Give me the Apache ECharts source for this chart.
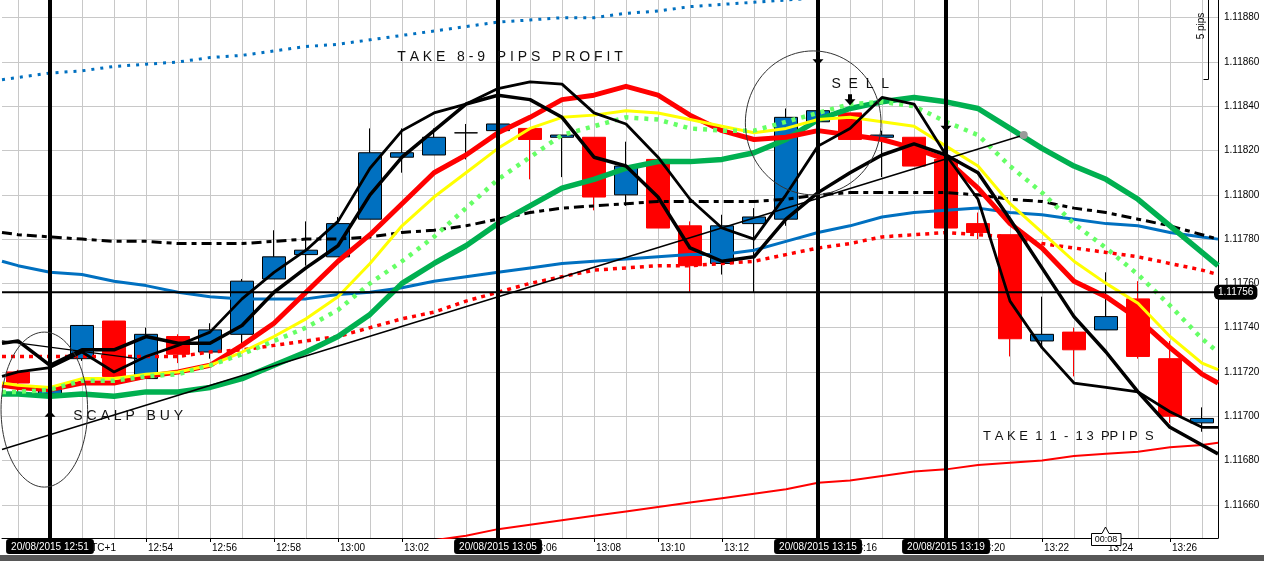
<!DOCTYPE html>
<html><head><meta charset="utf-8">
<script src="https://cdn.jsdelivr.net/npm/echarts@6/dist/echarts.min.js"></script>
<style>html,body{margin:0;padding:0;background:#fff}#c{width:1264px;height:561px}</style>
</head><body><div id="c"></div>
<script>
// ---------- DATA ----------
const categories = ['12:50','12:51','12:52','12:53','12:54','12:55','12:56','12:57','12:58','12:59',
  '13:00','13:01','13:02','13:03','13:04','13:05','13:06','13:07','13:08','13:09',
  '13:10','13:11','13:12','13:13','13:14','13:15','13:16','13:17','13:18','13:19',
  '13:20','13:21','13:22','13:23','13:24','13:25','13:26','13:27'];
const openVals  = [1.11720,1.11710,1.11726,1.11743,1.11717,1.11736,1.11729,1.11737,1.11762,1.11773,1.11772,1.11789,1.11817,1.11818,1.11828,1.11829,1.11830,1.11826,1.11826,1.11800,1.11816,1.11786,1.11769,1.11787,1.11789,1.11833,1.11837,1.11826,1.11826,1.11816,1.11787,1.11782,1.11734,1.11738,1.11739,1.11753,1.11726,1.11697];
const closeVals = [1.11715,1.11712,1.11741,1.11718,1.11737,1.11728,1.11739,1.11761,1.11772,1.11775,1.11787,1.11819,1.11819,1.11826,1.11828,1.11832,1.11825,1.11827,1.11799,1.11813,1.11785,1.11768,1.11786,1.11790,1.11835,1.11838,1.11825,1.11827,1.11813,1.11785,1.11783,1.11735,1.11737,1.11730,1.11745,1.11727,1.11700,1.11699];
const lowVals   = [1.11711,1.11709,1.11725,1.11717,1.11717,1.11724,1.11726,1.11733,1.11762,1.11768,1.11772,1.11789,1.11810,1.11818,1.11816,1.11829,1.11807,1.11808,1.11793,1.11795,1.11785,1.11756,1.11764,1.11756,1.11786,1.11833,1.11825,1.11808,1.11813,1.11785,1.11780,1.11727,1.11731,1.11718,1.11739,1.11726,1.11697,1.11693];
const highVals  = [1.11721,1.11713,1.11741,1.11743,1.11740,1.11737,1.11742,1.11762,1.11784,1.11788,1.11790,1.11830,1.11830,1.11830,1.11832,1.11832,1.11830,1.11827,1.11826,1.11824,1.11816,1.11788,1.11791,1.11794,1.11839,1.11838,1.11837,1.11829,1.11826,1.11816,1.11792,1.11782,1.11754,1.11740,1.11765,1.11761,1.11734,1.11704];

const blackFast = [1.11720,1.11722,1.11729,1.11720,1.11727,1.11732,1.11738,1.11753,1.11765,1.11775,1.11788,1.11812,1.11829,1.11837,1.11841,1.11848,1.11851,1.11850,1.11837,1.11832,1.11817,1.11798,1.11785,1.11780,1.11800,1.11822,1.11830,1.11844,1.11841,1.11818,1.11798,1.11752,1.11731,1.11715,1.11713,1.11711,1.11702,1.11695];
const blackSlow = [1.11734,1.11723,1.11730,1.11730,1.11736,1.11733,1.11733,1.11741,1.11756,1.11767,1.11777,1.11800,1.11817,1.11829,1.11841,1.11845,1.11843,1.11835,1.11817,1.11813,1.11799,1.11776,1.11770,1.11772,1.11789,1.11801,1.11810,1.11818,1.11823,1.11818,1.11810,1.11789,1.11767,1.11745,1.11729,1.11711,1.11695,1.11687];
const redThick  = [1.11713,1.11712,1.11715,1.11715,1.11718,1.11720,1.11723,1.11732,1.11742,1.11756,1.11770,1.11782,1.11796,1.11810,1.11818,1.11828,1.11835,1.11843,1.11845,1.11849,1.11845,1.11836,1.11829,1.11825,1.11826,1.11829,1.11827,1.11825,1.11821,1.11816,1.11803,1.11787,1.11776,1.11761,1.11754,1.11744,1.11731,1.11719];
const yellowLine= [1.11714,1.11713,1.11717,1.11717,1.11719,1.11720,1.11723,1.11729,1.11736,1.11744,1.11754,1.11769,1.11786,1.11799,1.11810,1.11821,1.11830,1.11835,1.11836,1.11838,1.11837,1.11834,1.11831,1.11828,1.11830,1.11834,1.11835,1.11833,1.11831,1.11822,1.11813,1.11796,1.11783,1.11770,1.11760,1.11751,1.11736,1.11724];
const greenDots = [1.11711,1.11712,1.11716,1.11716,1.11718,1.11719,1.11723,1.11728,1.11734,1.11740,1.11748,1.11760,1.11770,1.11781,1.11794,1.11807,1.11817,1.11827,1.11831,1.11835,1.11834,1.11830,1.11829,1.11829,1.11833,1.11837,1.11841,1.11842,1.11840,1.11833,1.11827,1.11813,1.11801,1.11787,1.11776,1.11764,1.11750,1.11735];
const greenThick= [1.11710,1.11709,1.11710,1.11709,1.11711,1.11711,1.11713,1.11717,1.11723,1.11729,1.11736,1.11746,1.11760,1.11769,1.11777,1.11787,1.11795,1.11803,1.11807,1.11812,1.11815,1.11815,1.11816,1.11819,1.11825,1.11834,1.11839,1.11842,1.11844,1.11842,1.11839,1.11830,1.11821,1.11813,1.11807,1.11798,1.11786,1.11774];
const redDots   = [1.11727,1.11727,1.11727,1.11727,1.11727,1.11727,1.11729,1.11730,1.11732,1.11734,1.11736,1.11740,1.11744,1.11747,1.11752,1.11756,1.11760,1.11763,1.11766,1.11767,1.11768,1.11768,1.11769,1.11770,1.11773,1.11776,1.11778,1.11781,1.11782,1.11783,1.11782,1.11781,1.11778,1.11776,1.11774,1.11772,1.11769,1.11766];
const blueLine  = [1.11768,1.11765,1.11764,1.11761,1.11759,1.11756,1.11754,1.11753,1.11753,1.11753,1.11755,1.11756,1.11758,1.11761,1.11763,1.11765,1.11767,1.11769,1.11770,1.11771,1.11772,1.11773,1.11773,1.11775,1.11779,1.11783,1.11786,1.11790,1.11792,1.11793,1.11794,1.11792,1.11791,1.11789,1.11787,1.11786,1.11783,1.11781];
const blackDash = [1.11782,1.11781,1.11780,1.11779,1.11779,1.11778,1.11778,1.11778,1.11779,1.11780,1.11780,1.11781,1.11783,1.11784,1.11786,1.11789,1.11792,1.11794,1.11795,1.11796,1.11797,1.11797,1.11797,1.11797,1.11798,1.11800,1.11801,1.11801,1.11801,1.11801,1.11800,1.11798,1.11797,1.11794,1.11792,1.11789,1.11786,1.11782];
const blueDots  = [1.11853,1.11855,1.11856,1.11858,1.11859,1.11860,1.11862,1.11863,1.11865,1.11867,1.11868,1.11870,1.11872,1.11874,1.11876,1.11878,1.11879,1.11880,1.11880,1.11882,1.11883,1.11885,1.11886,1.11887,1.11888,1.11889,1.11890,1.11891,1.11892,1.11893,1.11894,1.11894,1.11895,1.11896,1.11896,1.11897,1.11897,1.11898];
const redThin   = [1.11618,1.11620,1.11622,1.11624,1.11626,1.11628,1.11630,1.11632,1.11634,1.11636,1.11638,1.11640,1.11642,1.11644,1.11646,1.11649,1.11651,1.11653,1.11655,1.11657,1.11659,1.11661,1.11663,1.11665,1.11667,1.11670,1.11671,1.11673,1.11675,1.11676,1.11678,1.11679,1.11680,1.11682,1.11683,1.11684,1.11686,1.11687];

// values where each line meets the left and right edges of the plot (half a bar outside the first/last bar)
const lineKeys  = ['blueDots','redThin','blueLine','redDots','blackDash','greenThick','redThick','yellow','greenDots','blackSlow','blackFast'];
const edgeLeft  = [1.11852, 1.11617, 1.11770, 1.11727, 1.11783, 1.11710, 1.11714, 1.11715, 1.11711, 1.11733, 1.11718];
const edgeRight = [1.11898, 1.11688, 1.11780, 1.11764, 1.11780, 1.11768, 1.11715, 1.11721, 1.11729, 1.11683, 1.11695];

// trend lines (x in bar index units, fractional allowed)
const trendX = [-0.5, 31.43];
const trendV = [1.11685, 1.11827];
const thinX  = [-0.5, 3.72];
const thinV  = [1.11734, 1.11726];

const priceLine = 1.11756;
const markedTimes = ['12:51','13:05','13:15','13:19'];
const markDate = '20/08/2015';
const arrowsDown = [[25, 1.11861],[26, 1.11843],[29, 1.11831]];
const arrowsUp = [[1, 1.11700]];

const notes = [
  {text:'T A K E   8 - 9   P I P S   P R O F I T', k:11.85, v:1.11862, size:14},
  {text:'S  E  L  L', k:25.42, v:1.11850, size:14},
  {text:'S C A L P   B U Y', k:1.73, v:1.11700, size:14},
  {text:'T A K E  1  1  -  1 3  PP I P  S', k:30.16, v:1.11691, size:13}
];
const ellipses = [
  {k:[-0.53, 2.175], v:[1.11738, 1.11668]},
  {k:[22.73, 26.97], v:[1.11865, 1.11800]}
];

// ---------- CHART ----------
const FONT = '"Liberation Sans", Arial, sans-serif';
const chart = echarts.init(document.getElementById('c'), null, {renderer:'canvas'});
const candleData = categories.map((c,i)=>[openVals[i], closeVals[i], lowVals[i], highVals[i]]);
const lineArrays = {blueDots, redThin, blueLine, redDots, blackDash, greenThick, redThick, yellow:yellowLine, greenDots, blackSlow, blackFast};
const lastEdge = categories.length - 0.5;

function lineSeries(key, color, width, type, z){
  const idx = lineKeys.indexOf(key);
  const arr = lineArrays[key];
  const data = [[-0.5, edgeLeft[idx]]].concat(arr.map((v,i)=>[i, v])).concat([[lastEdge, edgeRight[idx]]]);
  return {name:key, type:'line', data, xAxisIndex:1, yAxisIndex:0, showSymbol:false, symbol:'none',
    smooth:false, z: z||3, silent:true, clip:true,
    lineStyle:{color, width, type: type||'solid', cap:'butt', join:'round'}};
}

const downArrow = 'path://M3.5,0 L7.5,0 L7.5,5 L11,5 L5.5,11 L0,5 L3.5,5 Z';

const option = {
  animation:false,
  backgroundColor:'#ffffff',
  textStyle:{fontFamily:FONT},
  grid:{left:2, right:46, top:0, bottom:23, outerBoundsMode:'none', containLabel:false},
  xAxis:[{
    type:'category', data:categories, boundaryGap:true, position:'bottom',
    axisLine:{show:true, onZero:false, lineStyle:{color:'#000', width:1}},
    axisTick:{show:true, alignWithLabel:true, length:4, lineStyle:{color:'#000'},
      interval:(i)=> i>=2 && i%2===0},
    axisLabel:{show:true, color:'#000', fontSize:10, fontFamily:FONT, align:'left', margin:5,
      padding:[0,0,0,2],
      interval:(i)=> i>=2 && i%2===0,
      formatter:(v,i)=> i===2 ? 'UTC+1' : v},
    splitLine:{show:false}
  },{
    type:'value', min:-0.5, max:37.5, splitNumber:38, position:'bottom',
    axisLine:{show:false, onZero:false}, axisTick:{show:false}, axisLabel:{show:false},
    splitLine:{show:true, showMinLine:false, showMaxLine:false, lineStyle:{color:'#c8c8c8', width:1}}
  }],
  yAxis:[{
    type:'value', position:'right', min:1.11645, max:1.11888, splitNumber:12, scale:true,
    axisLine:{show:true, onZero:false, lineStyle:{color:'#000', width:1}},
    axisTick:{show:false},
    axisLabel:{show:true, color:'#000', fontSize:10, fontFamily:FONT, margin:6,
      showMinLabel:false, showMaxLabel:false, formatter:(v)=>v.toFixed(5)},
    splitLine:{show:true, showMinLine:false, showMaxLine:false, lineStyle:{color:'#c8c8c8', width:1}}
  }],
  series:[
    {name:'candles', type:'candlestick', data:candleData, xAxisIndex:0, yAxisIndex:0, barWidth:24, z:2, silent:true,
     itemStyle:{color:'#0070c0', color0:'#ff0000', borderColor:'#000000', borderColor0:'#ff0000', borderWidth:1}},
    lineSeries('blueDots', '#0070c0', 3, [3,6]),
    lineSeries('redThin', '#ff0000', 2),
    lineSeries('blueLine', '#0070c0', 3),
    lineSeries('redDots', '#ff0000', 3.5, [4,5]),
    lineSeries('blackDash', '#000000', 3, [10,5,5,5]),
    lineSeries('greenThick', '#00b050', 5.5),
    lineSeries('redThick', '#ff0000', 5),
    lineSeries('yellow', '#ffff00', 3),
    lineSeries('greenDots', '#66ff66', 4.5, [4,6]),
    {name:'thin', type:'line', xAxisIndex:1, yAxisIndex:0, silent:true, z:4, symbol:'none', showSymbol:false,
     data: thinX.map((x,i)=>[x, thinV[i]]), lineStyle:{color:'#000', width:1.3}},
    {name:'trend', type:'line', xAxisIndex:1, yAxisIndex:0, silent:true, z:4, symbol:'none', showSymbol:true,
     data:[[trendX[0], trendV[0]], {value:[trendX[1], trendV[1]], symbol:'circle', symbolSize:8, itemStyle:{color:'#9a9a9a'}}],
     lineStyle:{color:'#000', width:1.5}},
    lineSeries('blackSlow', '#000000', 3.5, 'solid', 5),
    lineSeries('blackFast', '#000000', 2.8, 'solid', 5),
    {name:'priceLevel', type:'line', xAxisIndex:1, yAxisIndex:0, silent:true, z:9, symbol:'none', showSymbol:false,
     clip:false,
     data:[[-0.5, priceLine],[lastEdge, priceLine]],
     lineStyle:{color:'#000', width:2},
     endLabel:{show:true, formatter:()=>priceLine.toFixed(5), color:'#fff', backgroundColor:'#000',
       padding:[3,4,2,4], borderRadius:5, fontSize:10, fontFamily:FONT, distance:-4}},
    {name:'arrows', type:'scatter', xAxisIndex:0, yAxisIndex:0, silent:true, z:8,
     symbol:downArrow, symbolSize:[11,11],
     itemStyle:{color:'#000', opacity:1},
     data: arrowsDown.map(a=>({value:a})).concat(arrowsUp.map(a=>({value:a, symbolRotate:180}))),
     markLine:{
       silent:true, animation:false, symbol:['none','none'], z:9,
       data: markedTimes.map(t=>({xAxis:t, name: markDate+' '+t,
          lineStyle:{color:'#000', width:4, type:'solid'},
          label:{show:true, position:'start', formatter:'{b}', color:'#fff', backgroundColor:'#000',
                 padding:[3,5,2,5], borderRadius:3, fontSize:10, fontFamily:FONT, distance:1}}))
     }}
  ]
};
chart.setOption(option);

// ---------- annotations (anchored in data space) ----------
const toPx = (k,v)=> chart.convertToPixel({xAxisIndex:1, yAxisIndex:0}, [k, v]);
const gfx = [];
ellipses.forEach(e=>{
  const p0 = toPx(e.k[0], e.v[0]), p1 = toPx(e.k[1], e.v[1]);
  const cx=(p0[0]+p1[0])/2, cy=(p0[1]+p1[1])/2, rx=Math.abs(p1[0]-p0[0])/2, ry=Math.abs(p1[1]-p0[1])/2;
  const pts=[];
  for(let i=0;i<=96;i++){const a=i/96*Math.PI*2; pts.push([cx+rx*Math.cos(a), cy+ry*Math.sin(a)]);}
  gfx.push({type:'polyline', silent:true, z:20, shape:{points:pts}, style:{stroke:'#333', lineWidth:1, fill:null}});
});
notes.forEach(n=>{
  const p = toPx(n.k, n.v);
  gfx.push({type:'text', silent:true, z:20, x:p[0], y:p[1],
    style:{text:n.text, fill:'#111', font:n.size+'px '+FONT, verticalAlign:'middle', align:'left'}});
});
// "5 pips" ruler (window chrome)
gfx.push({type:'polyline', silent:true, z:20, shape:{points:[[1208.5,0],[1208.5,79.5],[1203.5,79.5]]}, style:{stroke:'#000', lineWidth:1, fill:null}});
gfx.push({type:'text', silent:true, z:20, x:1201, y:26, rotation:Math.PI/2,
  style:{text:'5 pips', fill:'#000', font:'10px '+FONT, align:'center', verticalAlign:'middle'}});
// countdown box
gfx.push({type:'polygon', silent:true, z:20, shape:{points:[[1091.5,533.5],[1102,533.5],[1105.5,527],[1109,533.5],[1121,533.5],[1121,545.5],[1091.5,545.5]]},
  style:{fill:'#fff', stroke:'#000', lineWidth:1}});
gfx.push({type:'text', silent:true, z:21, x:1106, y:540,
  style:{text:'00:08', fill:'#000', font:'9px '+FONT, align:'center', verticalAlign:'middle'}});
// bottom window strip
gfx.push({type:'rect', silent:true, z:0, shape:{x:0, y:555, width:1264, height:6}, style:{fill:'#575757'}});
chart.setOption({graphic: gfx});
</script></body></html>
